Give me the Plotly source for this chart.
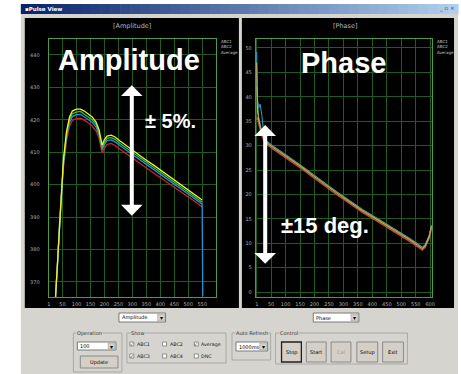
import plotly.graph_objects as go

W, H = 461, 374

# ---------------- data ----------------
amp_x = [25, 32, 39, 46, 53, 64, 75, 85, 99, 114, 128, 142, 156, 170, 181, 188, 192,
         199, 209, 224, 238, 256, 280, 309, 344, 380, 415, 451, 486, 522, 550]
amp_yellow = [365.4, 376.2, 389.1, 400.0, 407.6, 416.3, 420.9, 422.7, 423.3, 423.3, 422.7,
              421.8, 420.9, 419.3, 416.9, 413.8, 412.2, 413.8, 415.0, 415.3, 414.7, 413.5,
              411.9, 410.1, 407.9, 405.8, 403.6, 401.5, 399.3, 397.1, 395.3]
amp_green = [365.4, 375.8, 388.5, 399.2, 406.8, 415.4, 420.1, 421.9, 422.4, 422.6, 421.8,
             421.0, 420.0, 418.6, 416.1, 413.0, 411.5, 413.0, 414.3, 414.5, 414.0, 412.7,
             411.2, 409.4, 407.2, 405.1, 402.9, 400.8, 398.6, 396.4, 394.6]
amp_blue_x = amp_x + [552]
amp_blue = [366.5, 375.2, 387.9, 398.6, 406.0, 414.6, 419.2, 421.0, 421.6, 421.7, 421.0,
            420.1, 419.2, 417.8, 415.4, 412.4, 410.8, 412.2, 413.6, 413.8, 413.2, 412.0,
            410.5, 408.7, 406.6, 404.4, 402.2, 400.1, 398.0, 395.9, 394.0, 365.6]
amp_red = [365.4, 374.6, 387.0, 397.6, 405.0, 413.5, 418.1, 419.8, 420.4, 420.5, 419.9,
           419.0, 418.1, 416.6, 414.3, 411.3, 409.8, 411.1, 412.4, 412.7, 412.1, 410.9,
           409.4, 407.7, 405.6, 403.4, 401.3, 399.2, 397.1, 395.0, 393.1]

phase_x = [0, 3, 7, 12, 18, 25, 35, 50, 70, 95, 125, 155, 196, 240, 281, 323, 367, 412,
           453, 494, 535, 573, 583, 597, 604]
phase_yellow = [47.0, 37.0, 35.3, 33.8, 32.5, 31.5, 30.6, 29.9, 29.1, 28.1, 26.9, 25.6, 23.8,
                21.8, 20.1, 18.4, 16.6, 15.0, 13.5, 12.1, 10.5, 8.9, 9.5, 11.4, 13.4]
phase_red = [35.3, 35.8, 34.6, 33.3, 32.1, 31.1, 30.3, 29.6, 28.8, 27.8, 26.6, 25.3, 23.5,
             21.5, 19.8, 18.1, 16.3, 14.7, 13.2, 11.8, 10.2, 8.6, 9.2, 11.1, 13.1]
phase_green = [42.0, 38.5, 36.0, 34.4, 32.8, 31.8, 30.8, 30.1, 29.3, 28.3, 27.1, 25.8, 24.0,
               22.0, 20.3, 18.6, 16.8, 15.2, 13.7, 12.3, 10.7, 9.1, 9.7, 11.6, 13.6]
phase_blue = [49.2, 39.3, 37.7, 38.5, 36.2, 32.3, 30.9, 30.2, 29.4, 28.4, 27.2, 25.9, 24.1,
              22.1, 20.4, 18.7, 16.9, 15.3, 13.8, 12.4, 10.8, 9.2, 9.8, 11.7, 13.7]

amp_xticks = [1, 50, 100, 150, 200, 250, 300, 350, 400, 450, 500, 550]
amp_yticks = [370, 380, 390, 400, 410, 420, 430, 440]
phase_xticks = [1, 50, 100, 150, 200, 250, 300, 350, 400, 450, 500, 550, 600]
phase_yticks = [0, 5, 10, 15, 20, 25, 30, 35, 40, 45, 50]
legend_names = ["ABC1", "ABC2", "Average"]

# ---------------- helpers ----------------
def px(x):
    return x / W

def py(y):
    return 1 - y / H

shapes = []
annots = []

def rect(x0, y0, x1, y1, fill=None, line=None, lw=1, layer="below"):
    shapes.append(dict(type="rect", xref="paper", yref="paper",
                       x0=px(x0), x1=px(x1), y0=py(y1), y1=py(y0),
                       fillcolor=fill if fill else "rgba(0,0,0,0)",
                       line=dict(color=line if line else "rgba(0,0,0,0)", width=lw if line else 0),
                       layer=layer))

def text(x, y, s, size=5.5, color="#000000", xanchor="left", bold=False, bg=None,
         family="DejaVu Sans"):
    annots.append(dict(xref="paper", yref="paper", x=px(x), y=py(y), text=("<b>%s</b>" % s) if bold else s,
                       showarrow=False, xanchor=xanchor, yanchor="middle",
                       font=dict(size=size, color=color, family=family),
                       bgcolor=bg if bg else "rgba(0,0,0,0)", borderpad=0))

# ---------------- window chrome ----------------
GRAY = "#d6d4ce"
rect(20, 4, 461, 374, fill=GRAY)
# title bar gradient
n = 44
c0 = (10, 36, 106)
c1 = (176, 206, 238)
for i in range(n):
    t = i / (n - 1)
    c = tuple(int(c0[k] + (c1[k] - c0[k]) * t) for k in range(3))
    xa = 20 + (461 - 20) * i / n
    xb = 20 + (461 - 20) * (i + 1) / n + 0.6
    rect(xa, 4, xb, 14, fill="rgb(%d,%d,%d)" % c)
text(23, 9, "▪Pulse View", size=5.5, color="#ffffff", bold=True)
text(459, 9, "_ ▫ ×", size=5.5, color="#333333", xanchor="right")

# black panels
rect(24, 18, 240, 308, fill="#000000")
rect(243, 18, 457, 308, fill="#000000")

# panel titles
text(132, 26, "[Amplitude]", size=6.5, color="#b8b8b8", xanchor="center")
text(347, 26, "[Phase]", size=6.5, color="#b8b8b8", xanchor="center")
for i, nm in enumerate(legend_names):
    text(221, 41 + 5.5 * i, nm, size=4, color="#c8c8c8")
    text(439, 41 + 5.5 * i, nm, size=4, color="#c8c8c8")

# ---------------- bottom controls ----------------
def combo(x0, y0, x1, y1, s):
    rect(x0, y0, x1, y1, fill="#ffffff", line="#7a7a7a")
    rect(x1 - 8, y0 + 1, x1 - 1, y1 - 1, fill="#d4d0c8", line="#9a9a9a", lw=0.5)
    text(x1 - 4.5, (y0 + y1) / 2, "▾", size=6, color="#000000", xanchor="center")
    text(x0 + 2, (y0 + y1) / 2, s, size=5, color="#000000")

def group(x0, y0, x1, y1, label):
    rect(x0, y0, x1, y1, line="#a8a8a8", lw=1)
    text(x0 + 3, y0, label, size=5, color="#303030", bg=GRAY)

def button(x0, y0, x1, y1, s, color="#000000", focus=False):
    rect(x0, y0, x1, y1, fill="#d4d0c8", line="#202020" if focus else "#8a8a8a",
         lw=1.3 if focus else 1)
    text((x0 + x1) / 2, (y0 + y1) / 2, s, size=5, color=color, xanchor="center")

def check(x, y, s, checked):
    rect(x - 2, y - 2, x + 2, y + 2, fill="#ffffff", line="#6a6a6a", lw=0.7)
    if checked:
        text(x, y, "✓", size=4.5, color="#000000", xanchor="center")
    text(x + 4, y, s, size=4.8, color="#202020")

combo(119, 313, 166, 322, "Amplitude")
combo(315, 313, 361, 322, "Phase")

group(73, 333, 122, 372, "Operation")
combo(77, 342, 116, 350, "100")
button(80, 356, 118, 368, "Update")

group(127, 333, 227, 363, "Show")
check(132, 344, "ABC1", True)
check(165, 344, "ABC2", False)
check(197, 344, "Average", True)
check(132, 356, "ABC3", True)
check(165, 356, "ABC4", False)
check(197, 356, "DNC", False)

group(233, 333, 272, 360, "Auto Refresh")
combo(237, 342, 269, 351, "1000ms")

group(277, 333, 410, 364, "Control")
button(283, 342, 303, 362, "Stop", focus=True)
button(308, 342, 328, 362, "Start")
button(333, 342, 353, 362, "Cal", color="#9a9a9a")
button(359, 342, 380, 362, "Setup")
button(385, 342, 406, 362, "Exit")

# ---------------- traces ----------------
fig = go.Figure()
for xs, ys, col in [(amp_x, amp_red, "#d82020"), (amp_blue_x, amp_blue, "#2090e0"),
                    (amp_x, amp_green, "#38c038"), (amp_x, amp_yellow, "#f0f030")]:
    fig.add_trace(go.Scatter(x=xs, y=ys, mode="lines", line=dict(color=col, width=1.3),
                             xaxis="x", yaxis="y", showlegend=False, hoverinfo="skip"))
for ys, col, w in [(phase_blue, "#2aa0d8", 1.0), (phase_green, "#5a9a3c", 1.0),
                   (phase_red, "#b8502c", 1.6), (phase_yellow, "#d0a860", 1.1)]:
    fig.add_trace(go.Scatter(x=phase_x, y=ys, mode="lines", line=dict(color=col, width=w),
                             xaxis="x2", yaxis="y2", showlegend=False, hoverinfo="skip"))

# big overlay labels and arrows
annots.append(dict(xref="paper", yref="paper", x=px(129), y=py(60), text="<b>Amplitude</b>",
                   showarrow=False, xanchor="center", yanchor="middle",
                   font=dict(size=29, color="#ffffff", family="Liberation Sans")))
annots.append(dict(xref="paper", yref="paper", x=px(345), y=py(63), text="<b>Phase</b>",
                   showarrow=False, xanchor="center", yanchor="middle",
                   font=dict(size=29, color="#ffffff", family="Liberation Sans")))
annots.append(dict(xref="paper", yref="paper", x=px(171), y=py(121), text="<b>± 5%.</b>",
                   showarrow=False, xanchor="center", yanchor="middle",
                   font=dict(size=20, color="#ffffff", family="Liberation Sans")))
annots.append(dict(xref="paper", yref="paper", x=px(327), y=py(225), text="<b>±15 deg.</b>",
                   showarrow=False, xanchor="center", yanchor="middle",
                   font=dict(size=22, color="#ffffff", family="Liberation Sans")))

arrow_style = dict(text="", showarrow=True, arrowhead=1, startarrowhead=1,
                   arrowside="end+start", arrowwidth=4, arrowsize=0.9, startarrowsize=0.9,
                   arrowcolor="#ffffff", standoff=0, startstandoff=0)
annots.append(dict(x=298, y=430.7, ax=298, ay=390.0, xref="x", yref="y", axref="x", ayref="y",
                   **arrow_style))
annots.append(dict(x=29.6, y=34.2, ax=29.6, ay=5.5, xref="x2", yref="y2", axref="x2", ayref="y2",
                   **arrow_style))

GRID = "#1f5a1f"
LINE = "#4a9a4a"
tickfont = dict(size=5, color="#b0b0b0", family="DejaVu Sans")
common = dict(showgrid=True, gridcolor=GRID, gridwidth=1, zeroline=False, showline=True,
              linecolor=LINE, linewidth=1, mirror=True, ticks="outside",
              tickcolor="rgba(0,0,0,0)", tickfont=tickfont, fixedrange=True)

fig.update_layout(
    width=W, height=H, margin=dict(l=0, r=0, t=0, b=0),
    paper_bgcolor="#ffffff", plot_bgcolor="rgba(0,0,0,0)",
    showlegend=False,
    xaxis=dict(domain=[px(48), px(217)], range=[0, 600], anchor="y",
               tickvals=amp_xticks, ticktext=[str(v) for v in amp_xticks], ticklen=2, **common),
    yaxis=dict(domain=[py(297), py(39)], range=[365.37, 444.93], anchor="x",
               tickvals=amp_yticks, ticktext=[str(v) for v in amp_yticks], ticklen=7, **common),
    xaxis2=dict(domain=[px(257), px(435)], range=[-3, 607], anchor="y2",
                tickvals=phase_xticks, ticktext=[str(v) for v in phase_xticks], ticklen=2, **common),
    yaxis2=dict(domain=[py(297), py(39)], range=[-1.02, 51.84], anchor="x2",
                tickvals=phase_yticks, ticktext=[str(v) for v in phase_yticks], ticklen=2, **common),
    shapes=shapes, annotations=annots,
)

fig.write_html("out.html")
